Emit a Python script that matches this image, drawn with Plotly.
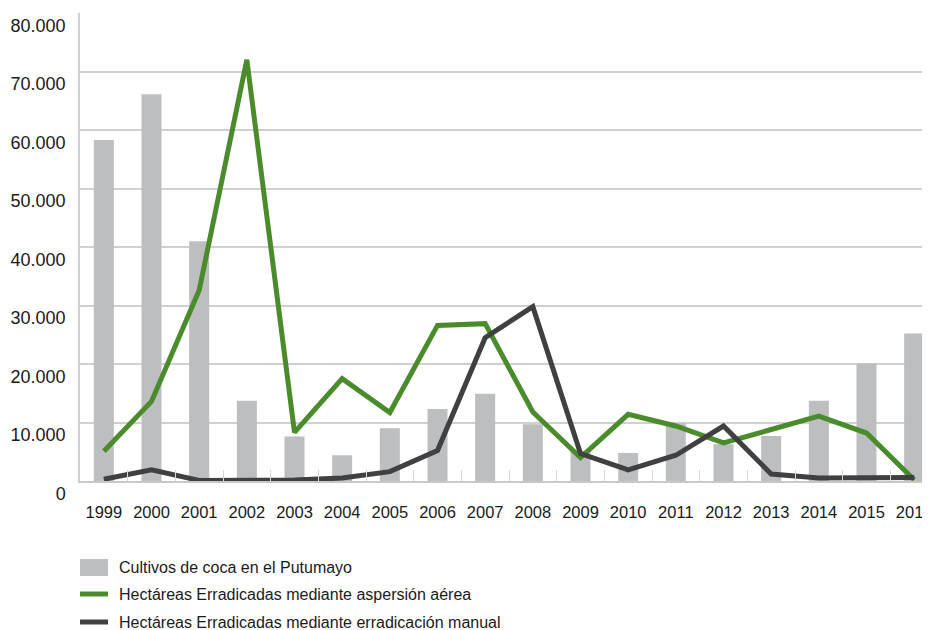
import plotly.graph_objects as go

years = ["1999", "2000", "2001", "2002", "2003", "2004", "2005", "2006", "2007",
         "2008", "2009", "2010", "2011", "2012", "2013", "2014", "2015", "2016"]
cultivos = [58300, 66100, 41000, 13700, 7600, 4400, 9000, 12300, 14900,
            9700, 5200, 4800, 9900, 6300, 7700, 13700, 20100, 25200]
aspersion = [5100, 13600, 32600, 72000, 8300, 17500, 11700, 26600, 26900,
             11800, 4000, 11400, 9400, 6500, 8800, 11100, 8200, 200]
manual = [300, 1900, 100, 200, 150, 500, 1600, 5200, 24500,
          29800, 4700, 1900, 4400, 9400, 1200, 500, 600, 600]
y_ticks = [0, 10000, 20000, 30000, 40000, 50000, 60000, 70000, 80000]
y_labels = ["0", "10.000", "20.000", "30.000", "40.000", "50.000", "60.000", "70.000", "80.000"]

names = ["Cultivos de coca en el Putumayo",
         "Hectáreas Erradicadas mediante aspersión aérea",
         "Hectáreas Erradicadas mediante erradicación manual"]
colors = ["#bdbec0", "#4a8c2c", "#404042"]

W, H = 930, 630
ML, MR, MT, MB = 72, 0, 5, 157
PW, PH = W - ML - MR, H - MT - MB
OFF = 8  # page offset of the figure in the screenshot


def px_x(sx):
    return (sx - OFF - ML) / PW


def px_y(sy):
    return (H - MB - (sy - OFF)) / PH


fig = go.Figure()
fig.add_trace(go.Bar(x=years, y=cultivos, name=names[0], marker_color=colors[0],
                     marker_line_width=0))
fig.add_trace(go.Scatter(x=years, y=aspersion, name=names[1], mode="lines",
                         line=dict(color=colors[1], width=5)))
fig.add_trace(go.Scatter(x=years, y=manual, name=names[2], mode="lines",
                         line=dict(color=colors[2], width=5)))

# custom legend (shapes + text) below the plot
row_y = [567, 594, 622]
shapes = [dict(type="rect", xref="paper", yref="paper",
               x0=px_x(80), x1=px_x(108), y0=px_y(576), y1=px_y(559),
               fillcolor=colors[0], line_width=0)]
for i in (1, 2):
    shapes.append(dict(type="line", xref="paper", yref="paper",
                       x0=px_x(80), x1=px_x(108), y0=px_y(row_y[i]), y1=px_y(row_y[i]),
                       line=dict(color=colors[i], width=5)))
annotations = []
for i in range(3):
    annotations.append(dict(xref="paper", yref="paper", x=px_x(117), y=px_y(row_y[i]),
                            xanchor="left", yanchor="middle", showarrow=False,
                            text=names[i], font=dict(size=16, color="#1a1a1a")))

fig.update_layout(
    width=W, height=H,
    margin=dict(l=ML, r=MR, t=MT, b=MB, autoexpand=False),
    paper_bgcolor="white", plot_bgcolor="white",
    font=dict(family="Liberation Sans, Arial, sans-serif", color="#1a1a1a", size=16),
    bargap=0.58,
    showlegend=False,
    hovermode=False,
    shapes=shapes,
    annotations=annotations,
)
fig.update_xaxes(
    type="category", range=[-0.5, 17.5], automargin=False, tickangle=0,
    showline=True, linecolor="#c8c8c8", linewidth=1.5,
    ticks="inside", tickson="boundaries", ticklen=11, tickcolor="#d6d6d6", tickwidth=1,
    showgrid=False, ticklabelstandoff=15, tickfont=dict(size=16.5),
)
fig.update_yaxes(
    range=[0, 80000], automargin=False,
    tickvals=y_ticks, ticktext=y_labels,
    showgrid=True, gridcolor="#d0d0d0", gridwidth=1.5,
    showline=True, linecolor="#d0d0d0", linewidth=1.5,
    zeroline=False, ticks="", ticklabelposition="outside bottom",
    ticklabelstandoff=9, tickfont=dict(size=18),
)

fig.write_html("out.html")
